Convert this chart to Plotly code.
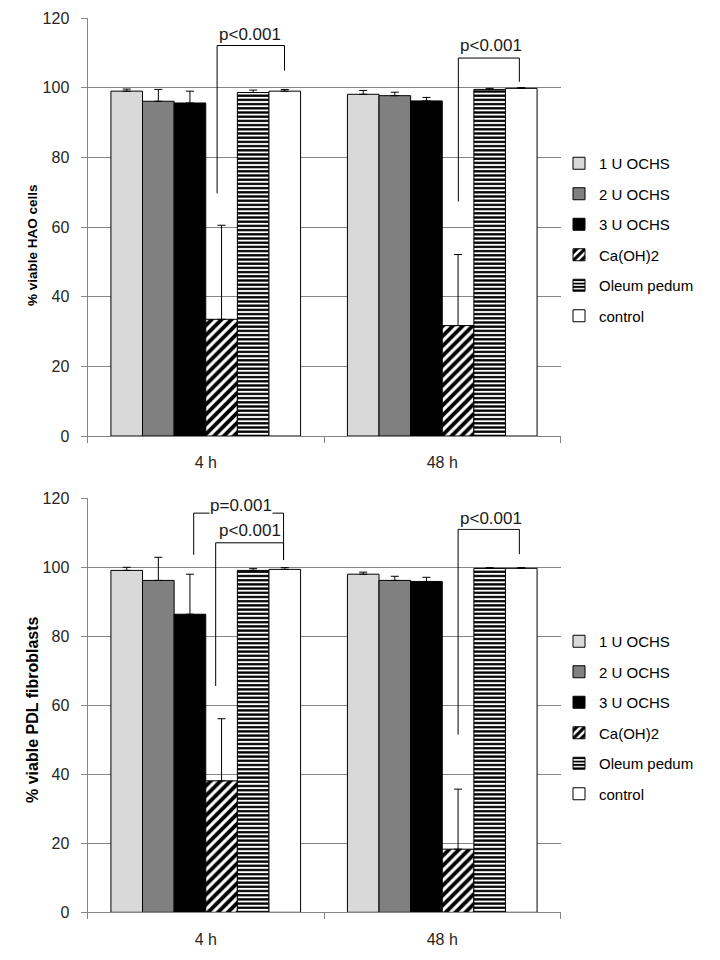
import plotly.graph_objects as go

# ---------------- data ----------------
timepoints = ["4 h", "48 h"]
series_names = ["1 U OCHS", "2 U OCHS", "3 U OCHS", "Ca(OH)2", "Oleum pedum", "control"]

# HAO cells (% viable) and upper error
hao_1u = [99.0, 98.1]
hao_2u = [96.1, 97.7]
hao_3u = [95.6, 96.2]
hao_ca = [33.5, 31.7]
hao_ol = [98.6, 99.5]
hao_ct = [99.0, 99.8]
hao_1u_err = [0.6, 1.1]
hao_2u_err = [3.4, 1.0]
hao_3u_err = [3.4, 1.0]
hao_ca_err = [27.0, 20.4]
hao_ol_err = [0.7, 0.3]
hao_ct_err = [0.5, 0.2]

# PDL fibroblasts (% viable) and upper error
pdl_1u = [99.1, 98.0]
pdl_2u = [96.2, 96.2]
pdl_3u = [86.4, 95.9]
pdl_ca = [38.1, 18.3]
pdl_ol = [99.1, 99.7]
pdl_ct = [99.4, 99.7]
pdl_1u_err = [0.9, 0.6]
pdl_2u_err = [6.7, 1.2]
pdl_3u_err = [11.6, 1.2]
pdl_ca_err = [18.0, 17.4]
pdl_ol_err = [0.5, 0.2]
pdl_ct_err = [0.5, 0.2]

y_ticks = [0, 20, 40, 60, 80, 100, 120]

# significance brackets: (label, x_left, x_right, y_top, left_bottom, right_bottom, label_x, label_y)
hao_brackets = [
    ("p<0.001", 0.048, 0.333, 112.1, 69.7, 104.9, 0.188, 115.3),
    ("p<0.001", 1.068, 1.326, 108.5, 67.3, 101.7, 1.207, 112.0),
]
pdl_brackets = [
    ("p=0.001", -0.051, 0.329, 115.7, 103.6, 102.1, 0.151, 118.0),
    ("p<0.001", 0.042, 0.329, 107.1, 65.6, 102.1, 0.188, 110.8),
    ("p<0.001", 1.067, 1.326, 111.0, 51.5, 103.8, 1.207, 114.2),
]

# ---------------- layout helpers (page has an ~8px body margin) ----------------
OFF = 8
W, H = 720 - OFF, 960 - OFF


def xp(p):
    return (p - OFF) / W


def yp(p):
    return 1 - (p - OFF) / H


# ---------------- styles ----------------
FONT = "Liberation Sans"
styles = [
    dict(color="#d9d9d9"),
    dict(color="#808080"),
    dict(color="#000000"),
    dict(color="#ffffff", pattern=dict(shape="/", fgcolor="#000000", bgcolor="#ffffff",
                                       fgopacity=1, size=7, solidity=0.55)),
    dict(color="#ffffff", pattern=dict(shape="-", fgcolor="#000000", bgcolor="#ffffff",
                                       fgopacity=1, size=4.2, solidity=0.55)),
    dict(color="#ffffff"),
]

fig = go.Figure()

hao_vals = [hao_1u, hao_2u, hao_3u, hao_ca, hao_ol, hao_ct]
hao_errs = [hao_1u_err, hao_2u_err, hao_3u_err, hao_ca_err, hao_ol_err, hao_ct_err]
pdl_vals = [pdl_1u, pdl_2u, pdl_3u, pdl_ca, pdl_ol, pdl_ct]
pdl_errs = [pdl_1u_err, pdl_2u_err, pdl_3u_err, pdl_ca_err, pdl_ol_err, pdl_ct_err]


def add_series(vals, errs, xa, ya, legend, prefix):
    for name, v, e, st in zip(series_names, vals, errs, styles):
        marker = dict(color=st["color"], line=dict(color="#000000", width=1))
        if "pattern" in st:
            marker["pattern"] = st["pattern"]
        fig.add_trace(go.Bar(
            x=timepoints, y=v, name=name, marker=marker,
            error_y=dict(type="data", symmetric=False, array=e, arrayminus=[0] * len(e),
                         color="#000000", thickness=1, width=4),
            xaxis=xa, yaxis=ya, legend=legend, legendgroup=prefix + name,
        ))


add_series(hao_vals, hao_errs, "x", "y", "legend", "hao")
add_series(pdl_vals, pdl_errs, "x2", "y2", "legend2", "pdl")


def add_brackets(brackets, xref, yref):
    for (label, xl, xr, yt, lb, rb, lx, ly) in brackets:
        line = dict(color="#000000", width=1)
        fig.add_shape(type="line", x0=xl, x1=xr, y0=yt, y1=yt, xref=xref, yref=yref, line=line)
        fig.add_shape(type="line", x0=xl, x1=xl, y0=yt, y1=lb, xref=xref, yref=yref, line=line)
        fig.add_shape(type="line", x0=xr, x1=xr, y0=yt, y1=rb, xref=xref, yref=yref, line=line)
        fig.add_annotation(x=lx, y=ly, xref=xref, yref=yref, text=label, showarrow=False,
                           font=dict(family=FONT, size=17, color="#1a1a1a"),
                           bgcolor="#ffffff", borderpad=0, xanchor="center", yanchor="middle")


add_brackets(hao_brackets, "x", "y")
add_brackets(pdl_brackets, "x2", "y2")

xdom = [xp(87.5), xp(560.5)]
axis_common_x = dict(
    showgrid=False, showline=True, linecolor="#868686", linewidth=1,
    ticks="outside", tickson="boundaries", ticklen=6, tickcolor="#868686",
    tickfont=dict(family=FONT, size=16, color="#262626"), ticklabelstandoff=12,
    domain=xdom, fixedrange=True,
)
axis_common_y = dict(
    range=[0, 120], tickvals=y_ticks, showgrid=True, gridcolor="#868686", gridwidth=1,
    showline=True, linecolor="#868686", linewidth=1, ticks="outside", ticklen=6,
    tickcolor="#868686", tickfont=dict(family=FONT, size=16, color="#262626"),
    ticklabelstandoff=8, zeroline=False,
)

legend_common = dict(
    xanchor="left", yanchor="top", font=dict(family=FONT, size=15, color="#000000"),
    bgcolor="rgba(0,0,0,0)", traceorder="grouped", tracegroupgap=8, itemclick=False,
    itemwidth=30,
)

fig.update_layout(
    width=W, height=H,
    margin=dict(l=0, r=0, t=0, b=0, autoexpand=False),
    paper_bgcolor="#ffffff", plot_bgcolor="#ffffff",
    barmode="group", bargap=0.198, bargroupgap=0,
    font=dict(family=FONT),
    xaxis=dict(anchor="y", **axis_common_x),
    yaxis=dict(anchor="x", domain=[yp(436), yp(18)], **axis_common_y),
    xaxis2=dict(anchor="y2", **axis_common_x),
    yaxis2=dict(anchor="x2", domain=[yp(912.3), yp(498.3)], **axis_common_y),
    legend=dict(x=xp(559), y=yp(147), **legend_common),
    legend2=dict(x=xp(559), y=yp(625), **legend_common),
    showlegend=True,
)

fig.add_annotation(x=xp(32), y=yp(245), xref="paper", yref="paper",
                   xanchor="center", yanchor="middle",
                   text="<b>% viable HAO cells</b>", textangle=-90, showarrow=False,
                   font=dict(family=FONT, size=13.5, color="#000000"))
fig.add_annotation(x=xp(32), y=yp(710), xref="paper", yref="paper",
                   xanchor="center", yanchor="middle",
                   text="<b>% viable PDL fibroblasts</b>", textangle=-90, showarrow=False,
                   font=dict(family=FONT, size=16, color="#000000"))

fig.write_html("out.html")
